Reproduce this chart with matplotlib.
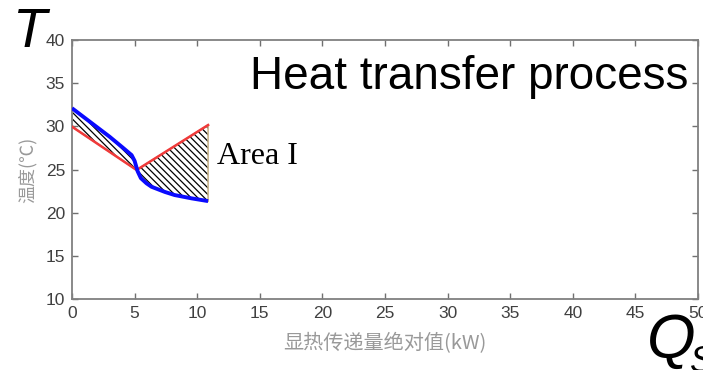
import numpy as np
import matplotlib
matplotlib.use("Agg")
import matplotlib.pyplot as plt

plt.rcParams['font.family'] = ['Liberation Sans', 'Noto Sans CJK SC', 'DejaVu Sans']
plt.rcParams['hatch.linewidth'] = 0.9

# Data
blue_x = [0, 1, 2, 3, 4, 4.76, 5.0, 5.24, 5.5, 5.95, 6.35, 7.42, 8.2, 9.54, 10.87]
blue_T = [32.1, 31.0, 29.9, 28.8, 27.6, 26.67, 26.0, 24.8, 24.0, 23.4, 23.0, 22.4, 22.04, 21.66, 21.34]
red_x = [0, 5.16, 10.87]
red_T = [29.96, 24.94, 30.15]

xticks = [0, 5, 10, 15, 20, 25, 30, 35, 40, 45, 50]
yticks = [10, 15, 20, 25, 30, 35, 40]

fig = plt.figure(figsize=(7.03, 3.70), dpi=100)
ax = fig.add_axes([72/703, 1-299/370, (698-72)/703, (299-40)/370])

# hatched area between curves
px = np.concatenate([red_x, blue_x[::-1]])
py = np.concatenate([red_T, blue_T[::-1]])
ax.fill(px, py, facecolor='white', edgecolor='black', hatch='\\\\\\\\\\', linewidth=0, zorder=1)
ax.fill(px, py, facecolor='none', edgecolor='#c8b48c', linewidth=1.2, zorder=2)

ax.plot(red_x, red_T, color='#f03a3a', lw=1.8, zorder=3)
ax.plot(blue_x, blue_T, color='#0a0aff', lw=2.8, zorder=4, solid_capstyle='butt')

ax.set_xlim(0, 50)
ax.set_ylim(10, 40)
ax.set_xticks(xticks)
ax.set_yticks(yticks)
ax.tick_params(direction='in', length=4, width=1, color='#707070', labelcolor='#404040',
               labelsize=12.5, top=True, right=True, pad=5)
for s in ax.spines.values():
    s.set_color('#808080')
    s.set_linewidth(1.3)

ax.set_xlabel('显热传递量绝对值(kW)', fontsize=14.5, color='#999999',
              family=['Noto Sans CJK SC', 'DejaVu Sans'], labelpad=9)
ax.set_ylabel('温度(℃)', fontsize=13, color='#999999',
              family=['Noto Sans CJK SC', 'DejaVu Sans'], labelpad=6)

ax.text(11.6, 25.6, 'Area I', fontsize=23, family='Liberation Serif', color='black', va='baseline')

fig.text(688/703, 1-89/370, 'Heat transfer process', fontsize=33, ha='right', va='baseline', color='black')
fig.text(12/703, 1-47/370, 'T', fontsize=40, style='italic', ha='left', va='baseline', color='black')
fig.text(647/703, 1-358/370, 'Q', fontsize=45, style='italic', ha='left', va='baseline', color='black')
fig.text(690/703, 1-372/370, 'S', fontsize=26, style='italic', ha='left', va='baseline', color='black')

fig.savefig('out.png', dpi=100)
